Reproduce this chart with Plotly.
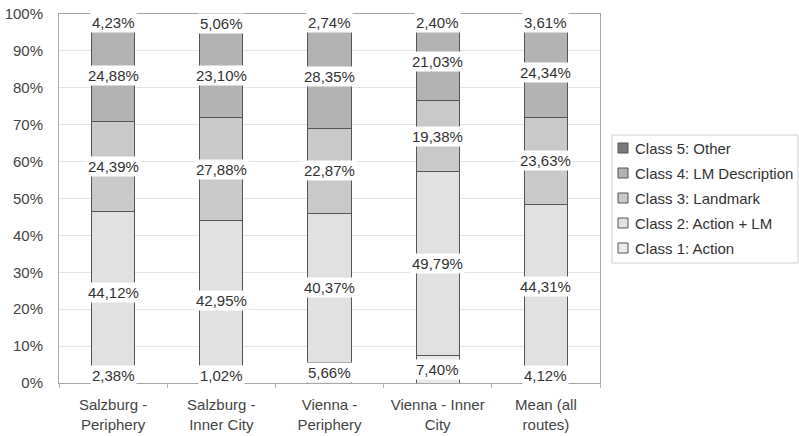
import plotly.graph_objects as go

# Route groups (x axis) and instruction classes (stacked series)
categories = ["Salzburg -<br>Periphery", "Salzburg -<br>Inner City", "Vienna -<br>Periphery",
              "Vienna - Inner<br>City", "Mean (all<br>routes)"]
class_names = ["Class 1: Action", "Class 2: Action + LM", "Class 3: Landmark",
               "Class 4: LM Description", "Class 5: Other"]

class1 = [2.38, 1.02, 5.66, 7.40, 4.12]
class2 = [44.12, 42.95, 40.37, 49.79, 44.31]
class3 = [24.39, 27.88, 22.87, 19.38, 23.63]
class4 = [24.88, 23.10, 28.35, 21.03, 24.34]
class5 = [4.23, 5.06, 2.74, 2.40, 3.61]

y_ticks = list(range(0, 101, 10))
y_tick_text = [f"{v}%" for v in y_ticks]

series = [class1, class2, class3, class4, class5]
colors = ["#e9e9e9", "#e1e1e1", "#c9c9c9", "#b3b3b3", "#7a7a7a"]

FONT = "Liberation Sans, Arial, sans-serif"
W, H = 799, 436
L, R, T, B = 59, 199, 14, 53          # plot area = 59..600 x 14..383 px
PW, PH = W - L - R, H - T - B

def fmt(v):
    return f"{v:.2f}".replace(".", ",") + "%"

fig = go.Figure()
for name, vals, col in zip(class_names, series, colors):
    fig.add_trace(go.Bar(
        x=categories, y=vals, name=name,
        marker=dict(color=col, line=dict(color="#555555", width=1)),
        showlegend=False,
    ))

# value labels in white boxes, centred on each segment (kept inside the plot area)
half_box = 8 / PH * 100
for i, cat in enumerate(categories):
    total = sum(s[i] for s in series)
    base = 0.0
    for vals in series:
        share = vals[i] / total * 100
        yc = base + share / 2
        yc = min(max(yc, half_box), 100 - half_box)
        fig.add_annotation(
            x=cat, y=yc, xref="x", yref="y", text=fmt(vals[i]), showarrow=False,
            font=dict(family=FONT, size=15, color="#333333"),
            bgcolor="white", borderpad=1,
        )
        base += share

# legend box drawn in paper coordinates
def px_x(px):
    return (px - L) / PW

def px_y(py):
    return (H - B - py) / PH

fig.add_shape(type="rect", xref="paper", yref="paper",
              x0=px_x(612), x1=px_x(798), y0=px_y(263), y1=px_y(135),
              line=dict(color="#cfcfcf", width=1), fillcolor="white")
for k, idx in enumerate(range(len(class_names) - 1, -1, -1)):
    cy = 148 + 25 * k
    fig.add_shape(type="rect", xref="paper", yref="paper",
                  x0=px_x(618), x1=px_x(628), y0=px_y(cy + 5), y1=px_y(cy - 5),
                  line=dict(color="#555555", width=1), fillcolor=colors[idx])
    fig.add_annotation(x=px_x(633), y=px_y(cy), xref="paper", yref="paper",
                       text=class_names[idx], showarrow=False, xanchor="left", yanchor="middle",
                       font=dict(family=FONT, size=15, color="#333333"))

fig.update_layout(
    width=W, height=H,
    margin=dict(l=L, r=R, t=T, b=B, pad=0, autoexpand=False),
    barmode="stack", barnorm="percent", bargap=0.6,
    plot_bgcolor="white", paper_bgcolor="white",
    font=dict(family=FONT, size=15, color="#444444"),
    showlegend=False,
)
fig.update_yaxes(
    range=[0, 100], tickvals=y_ticks, ticktext=y_tick_text, tickmode="array",
    showgrid=True, gridcolor="#e4e4e4", gridwidth=1,
    showline=True, mirror=True, linecolor="#a6a6a6", linewidth=1,
    ticks="", ticklabelstandoff=12, zeroline=False, automargin=False,
    tickfont=dict(family=FONT, size=15, color="#444444"),
)
fig.update_xaxes(
    showline=True, mirror=True, linecolor="#a6a6a6", linewidth=1,
    ticks="outside", tickson="boundaries", ticklen=4, tickcolor="#b0b0b0",
    ticklabelstandoff=8, automargin=False,
    tickfont=dict(family=FONT, size=15, color="#444444"),
)

fig.write_html("out.html")
